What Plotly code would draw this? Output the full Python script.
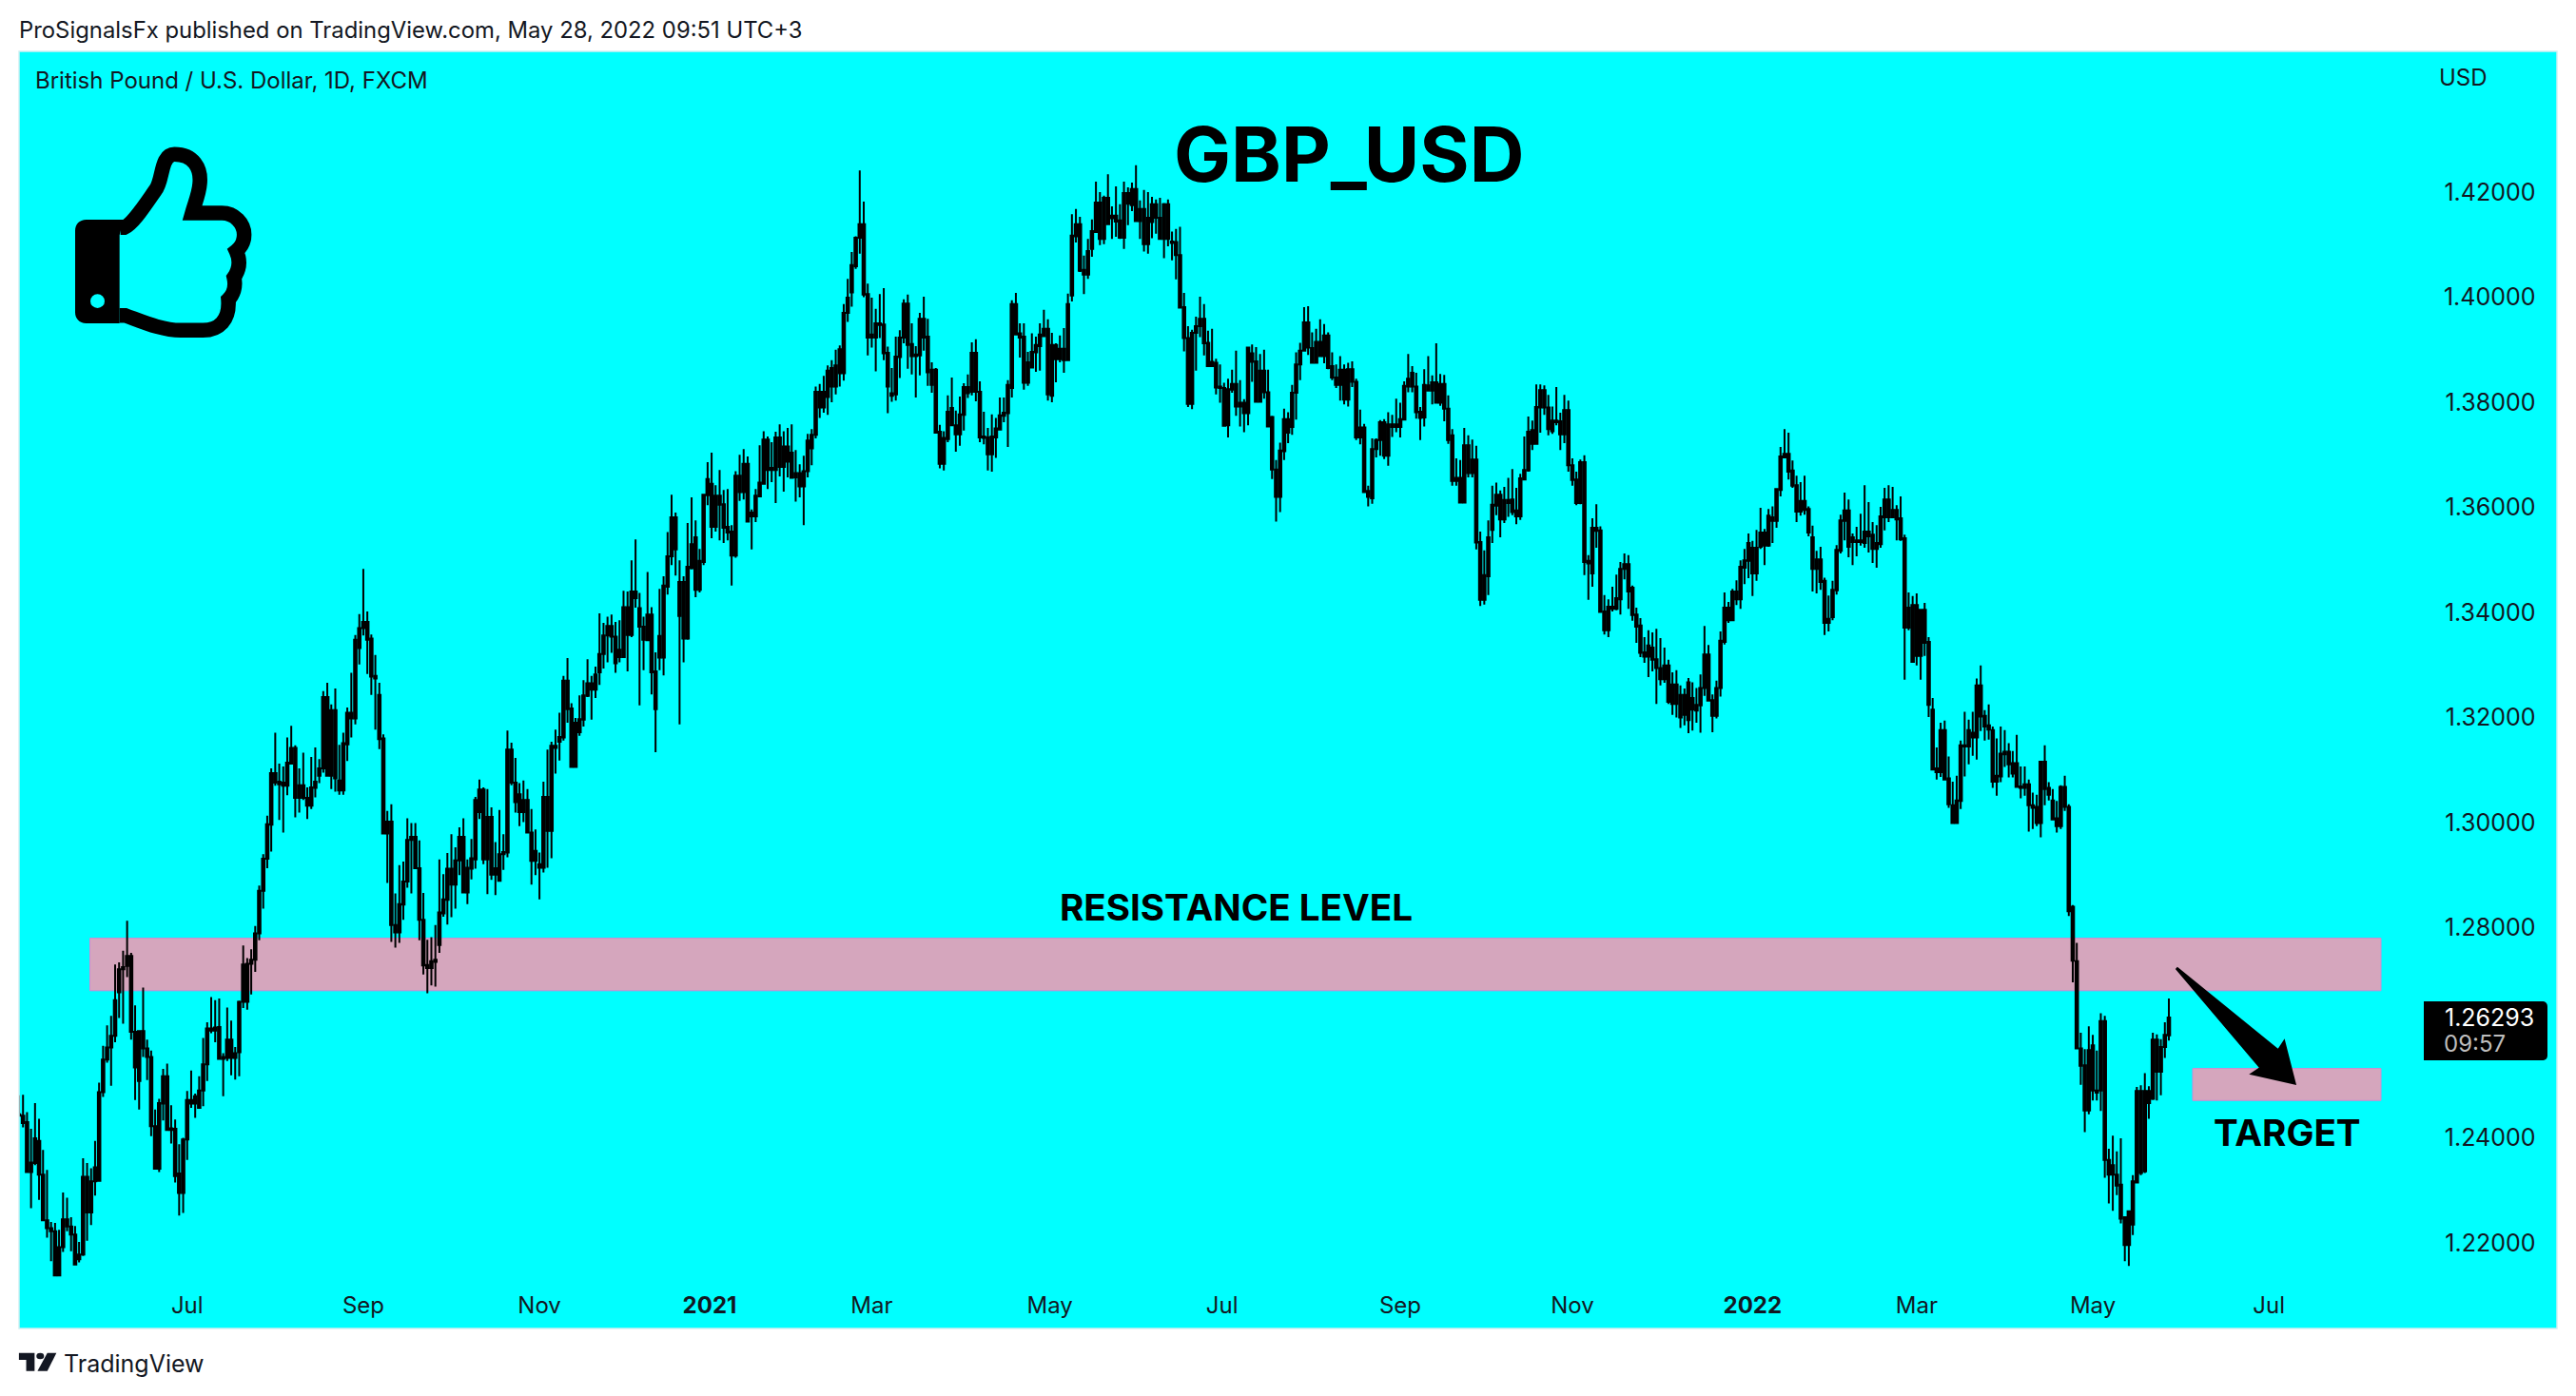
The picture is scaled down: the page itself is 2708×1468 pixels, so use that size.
import plotly.graph_objects as go

# ---- values, in 1/10000 USD (one row per ten daily candles) ----
high_a = [12481,12482,12449,12417,12466,12436,12377,12339,12240,12238,
12225,12296,12286,12249,12232,12202,12361,12352,12342,12394,
12505,12575,12614,12632,12730,12734,12756,12813,12752,12652,
12605,12686,12587,12566,12454,12474,12531,12541,12462,12435,
12388,12400,12489,12528,12484,12517,12590,12620,12668,12662,
12665,12561,12648,12623,12573,12661,12766,12742,12759,12803,
12880,12940]
top_a = [12445,12442,12430,12353,12399,12394,12330,12243,12228,12222,
12192,12245,12245,12231,12216,12178,12326,12326,12317,12344,
12487,12549,12572,12594,12662,12721,12725,12746,12746,12602,
12603,12603,12570,12554,12422,12466,12517,12517,12418,12417,
12332,12397,12472,12472,12479,12490,12540,12608,12608,12610,
12611,12554,12587,12587,12561,12659,12730,12731,12739,12789,
12870,12931]
bottom_a = [12442,12428,12335,12335,12352,12330,12243,12228,12222,12138,
12138,12192,12231,12216,12159,12169,12178,12258,12258,12317,
12318,12487,12549,12572,12594,12677,12721,12727,12602,12534,
12508,12570,12554,12422,12341,12341,12465,12415,12415,12327,
12295,12295,12397,12465,12465,12457,12490,12540,12604,12604,
12550,12550,12552,12552,12552,12563,12659,12659,12731,12739,
12789,12870]
low_a = [12442,12420,12335,12266,12348,12282,12243,12210,12165,12138,
12138,12183,12222,12184,12159,12163,12175,12204,12234,12290,
12318,12478,12543,12499,12582,12628,12617,12706,12587,12472,
12454,12554,12510,12403,12341,12335,12433,12415,12389,12315,
12252,12257,12358,12457,12438,12455,12460,12508,12599,12582,
12550,12479,12546,12519,12511,12517,12647,12644,12673,12716,
12776,12836]

high_b = [13013,13103,13171,13112,13107,13162,13184,13147,13103,13133,
13067,13125,13143,13121,13250,13266,13225,13255,13148,13171,
13219,13285,13357,13397,13483,13402,13358,13319,13266,13168,
13022,13035,12865,12919,12926,13008,12999,12999,12966,12866,
12777,12782,12805,12930,12902,12942,12978,12953,12991,13008,
12930,12969,13049,13082,13067,13064,13029,12963,13024,12978,
13175,13152,13123,13075,13080,13064,13026,12987,12943,13078,
13139,13154,13177,13209,13279,13313]
top_b = [12997,13094,13094,13078,13076,13114,13142,13142,13071,13071,
13047,13067,13078,13103,13239,13239,13214,13214,13080,13151,
13209,13209,13348,13370,13382,13382,13350,13279,13243,13160,
13002,13002,12805,12845,12888,12967,12973,12973,12913,12815,
12729,12736,12739,12829,12854,12912,12912,12928,12973,12973,
12914,12932,13043,13063,13063,13011,13011,12913,12940,12944,
13139,13139,13076,13054,13043,13043,12981,12946,12921,13049,
13049,13146,13146,13163,13270,13270]
bottom_b = [12931,12996,13076,13073,13070,13070,13112,13047,13047,13047,
13032,13032,13066,13089,13103,13089,13089,13084,13061,13061,
13149,13198,13198,13332,13370,13348,13278,13274,13159,12979,
12979,12805,12791,12791,12844,12888,12967,12913,12815,12728,
12723,12723,12735,12767,12827,12853,12882,12882,12928,12867,
12867,12912,12930,13020,12930,12930,12901,12901,12889,12940,
12943,13076,13039,13020,13020,12981,12927,12927,12914,12914,
12984,12984,13142,13154,13162,13216]
low_b = [12913,12945,13070,13005,12981,13052,13112,13010,13019,13043,
13007,13026,13048,13075,13095,13089,13064,13059,13053,13053,
13117,13162,13187,13301,13356,13283,13243,13177,13140,12979,
12885,12773,12762,12771,12815,12876,12865,12913,12776,12711,
12675,12690,12688,12752,12821,12806,12820,12836,12900,12867,
12845,12892,12912,13007,12921,12864,12891,12862,12889,12910,
12934,13071,13019,12993,13001,12981,12882,12900,12854,12905,
12914,12932,13093,13118,13156,13190]

high_c = [13227,13199,13242,13271,13311,13279,13297,13398,13380,13392,
13396,13382,13385,13441,13440,13499,13539,13437,13392,13477,
13410,13324,13445,13469,13553,13624,13590,13499,13469,13570,
13619,13575,13521,13624,13686,13704,13642,13671,13633,13635,
13566,13669,13700,13711,13697,13596,13635,13718,13745,13735,
13724,13744,13758,13745,13751,13758,13709,13682,13698,13740,
13749,13830,13835,13850,13870,13880,13900]
top_c = [13217,13190,13197,13242,13265,13265,13282,13321,13356,13374,
13374,13354,13329,13410,13410,13440,13440,13408,13373,13396,
13396,13288,13355,13451,13507,13581,13581,13458,13458,13487,
13530,13543,13498,13624,13654,13645,13622,13622,13606,13563,
13554,13660,13660,13683,13683,13590,13622,13647,13729,13729,
13675,13733,13733,13716,13716,13704,13665,13665,13669,13727,
13738,13820,13820,13820,13860,13865,13870]
bottom_c = [13106,13106,13172,13196,13241,13253,13253,13286,13321,13356,
13354,13303,13315,13315,13357,13357,13427,13373,13348,13347,
13286,13216,13314,13314,13449,13507,13520,13393,13350,13350,
13484,13443,13443,13496,13623,13563,13563,13605,13561,13552,
13508,13508,13629,13629,13573,13583,13583,13621,13645,13671,
13671,13671,13677,13677,13687,13656,13657,13640,13640,13669,
13712,13738,13790,13790,13810,13830,13830]
low_c = [13106,13106,13165,13183,13239,13196,13237,13262,13293,13305,
13323,13285,13305,13315,13288,13353,13409,13223,13290,13346,
13244,13134,13290,13280,13434,13490,13470,13187,13305,13348,
13482,13429,13438,13490,13604,13541,13554,13537,13532,13537,
13451,13504,13612,13615,13572,13520,13572,13621,13644,13635,
13648,13608,13659,13630,13657,13656,13611,13619,13566,13657,
13680,13731,13770,13780,13776,13800,13815]

high_d = [13908,13987,14035,14086,14116,14241,14182,14026,13999,13978,
14006,14017,13906,13865,13925,13937,13996,14005,13950,13907,
13970,14001,13959,13876,13865,13757,13745,13813,13847,13784,
13811,13836,13853,13914,13920,13840,13782,13751,13777,13770,
13809,13809,13842,13994,14008,13950,13950,13896,13931,13925,
13950,13976,13958,13932,13912,13927,13941,14007,14158,14168,
14153,14079,14111,14148,14220,14200,14193,14234,14173,14211,
14177,14220,14209,14218,14251,14184]
top_d = [13901,13970,13999,14061,14113,14139,14139,14006,13929,13950,
13950,13948,13894,13817,13887,13923,13988,13988,13911,13891,
13959,13959,13925,13862,13862,13744,13732,13782,13789,13756,
13777,13829,13829,13894,13894,13820,13735,13733,13735,13750,
13775,13780,13833,13987,13987,13931,13925,13876,13896,13909,
13929,13940,13940,13909,13909,13902,13902,13987,14117,14139,
14139,14052,14088,14126,14180,14180,14189,14189,14155,14155,
14146,14198,14198,14206,14206,14168]
bottom_d = [13855,13855,13970,14009,14059,14113,14005,13923,13923,13923,
13947,13893,13830,13812,13815,13886,13923,13909,13888,13888,
13889,13923,13857,13833,13742,13683,13683,13730,13756,13739,
13739,13776,13817,13820,13820,13733,13732,13701,13701,13733,
13748,13774,13779,13827,13929,13923,13837,13837,13866,13895,
13907,13926,13815,13812,13882,13882,13880,13880,14003,14116,
14050,14043,14043,14092,14124,14111,14111,14139,14150,14144,
14113,14113,14178,14175,14145,14145]
low_d = [13830,13841,13953,13982,14054,14083,14000,13889,13904,13859,
13922,13880,13779,13801,13803,13846,13912,13864,13853,13809,
13851,13898,13831,13818,13741,13674,13670,13724,13756,13706,
13717,13746,13808,13813,13802,13724,13720,13670,13668,13694,
13746,13762,13715,13809,13928,13885,13824,13831,13865,13858,
13860,13925,13803,13800,13838,13876,13856,13880,13992,14104,
14048,14006,14035,14077,14124,14099,14101,14139,14111,14115,
14111,14092,14137,14164,14145,14111]

high_e = [14204,14200,14191,14186,14189,14179,14186,14125,14130,14134,
14008,13945,13938,13963,14001,13987,13936,13940,13883,13872,
13837,13845,13862,13898,13842,13806,13904,13910,13905,13892,
13900,13862,13774,13690,13723,13788,13781,13833,13895,13913,
13981,13983,13933,13940,13958,13949,13933,13895,13872,13888,
13872,13875,13878,13845,13786,13759,13641,13731,13731,13766,
13768,13781,13776,13807,13799,13840,13892,13869,13856,13791,
13863]
top_e = [14168,14151,14177,14177,14151,14177,14177,14106,14105,14080,
13981,13922,13932,13945,13959,13959,13913,13877,13875,13830,
13827,13825,13835,13835,13799,13799,13904,13893,13878,13860,
13860,13819,13772,13672,13708,13768,13768,13818,13872,13898,
13952,13952,13903,13915,13915,13927,13927,13869,13847,13862,
13862,13863,13863,13839,13752,13752,13631,13711,13728,13762,
13762,13758,13758,13758,13768,13831,13845,13856,13830,13782,
13833]
bottom_e = [14101,14101,14143,14151,14111,14111,14111,14103,14080,13980,
13922,13797,13797,13932,13945,13912,13869,13869,13828,13827,
13755,13756,13824,13792,13792,13779,13779,13877,13801,13801,
13819,13754,13672,13620,13620,13707,13742,13753,13818,13872,
13898,13904,13875,13875,13888,13888,13865,13847,13833,13833,
13805,13805,13839,13733,13733,13629,13620,13617,13711,13728,
13698,13698,13753,13753,13753,13767,13830,13830,13781,13770,
13771]
low_e = [14087,14083,14112,14121,14111,14074,14097,14070,14034,13980,
13897,13791,13787,13860,13924,13889,13869,13869,13815,13799,
13755,13733,13818,13774,13754,13743,13756,13839,13801,13801,
13807,13754,13654,13573,13591,13690,13722,13738,13767,13842,
13898,13890,13875,13875,13888,13874,13863,13842,13827,13803,
13796,13792,13829,13728,13720,13629,13602,13607,13695,13698,
13692,13679,13734,13743,13733,13767,13819,13819,13769,13728,
13754]

high_f = [13888,13851,13912,13854,13852,13813,13749,13693,13690,13751,
13737,13729,13717,13554,13518,13575,13641,13647,13632,13639,
13656,13673,13637,13664,13735,13773,13765,13834,13834,13832,
13814,13792,13829,13780,13814,13803,13693,13668,13691,13699,
13509,13579,13606,13564,13433,13425,13449,13472,13496,13512,
13509,13451,13409,13389,13353,13366,13362,13369,13351,13333,
13310,13286,13290,13261,13255,13275,13267]
top_f = [13832,13838,13838,13835,13835,13788,13737,13656,13656,13718,
13718,13691,13691,13534,13471,13543,13605,13624,13624,13614,
13614,13615,13594,13655,13671,13744,13747,13791,13823,13823,
13790,13765,13765,13764,13785,13785,13680,13653,13686,13686,
13498,13561,13561,13556,13402,13411,13411,13427,13483,13492,
13492,13447,13396,13375,13324,13337,13333,13311,13294,13299,
13299,13263,13263,13243,13243,13267,13237]
bottom_f = [13822,13822,13799,13799,13788,13728,13650,13650,13609,13609,
13665,13665,13533,13424,13424,13469,13557,13603,13577,13577,
13608,13591,13583,13583,13653,13670,13721,13721,13790,13790,
13749,13745,13762,13739,13739,13680,13652,13608,13608,13496,
13493,13474,13555,13401,13366,13366,13407,13407,13425,13483,
13440,13395,13373,13323,13316,13316,13310,13294,13273,13273,
13230,13226,13226,13200,13205,13195,13215]
low_f = [13822,13796,13799,13793,13764,13721,13641,13641,13609,13609,
13657,13657,13520,13412,13415,13433,13532,13585,13543,13570,
13582,13585,13568,13576,13653,13668,13709,13721,13742,13776,
13737,13740,13756,13709,13722,13668,13641,13604,13606,13471,
13424,13449,13523,13401,13358,13353,13402,13404,13396,13463,
13407,13384,13342,13315,13304,13277,13288,13226,13261,13266,
13226,13205,13200,13180,13185,13170,13175]

high_g = [13256,13282,13374,13338,13244,13270,13364,13438,13420,13445,
13461,13499,13521,13550,13536,13557,13599,13559,13597,13602,
13635,13715,13749,13742,13689,13660,13648,13660,13602,13565,
13517,13525,13466,13432,13460,13528,13586,13628,13615,13550,
13563,13588,13642,13610,13572,13566,13601,13637,13642,13639,
13604,13621,13548,13438,13431,13436,13407,13418,13353,13237,
13143,13190,13194]
top_g = [13224,13256,13320,13320,13233,13256,13346,13409,13409,13440,
13440,13487,13499,13532,13523,13523,13552,13552,13584,13581,
13635,13697,13702,13702,13670,13642,13612,13612,13597,13543,
13501,13501,13460,13388,13443,13519,13575,13594,13594,13543,
13537,13537,13554,13554,13548,13532,13583,13615,13615,13595,
13595,13579,13541,13409,13414,13414,13405,13405,13344,13215,
13103,13176,13176]
bottom_g = [13213,13223,13256,13232,13203,13203,13256,13344,13385,13385,
13425,13425,13485,13498,13474,13474,13525,13527,13527,13574,
13574,13633,13695,13668,13641,13592,13592,13595,13552,13483,
13483,13458,13380,13380,13391,13442,13517,13574,13525,13534,
13534,13534,13532,13545,13521,13521,13530,13581,13581,13581,
13577,13539,13371,13371,13306,13317,13317,13342,13224,13101,
13096,13096,13082]
low_g = [13190,13171,13241,13231,13172,13198,13240,13339,13380,13384,
13414,13407,13454,13465,13431,13460,13521,13490,13525,13532,
13561,13621,13695,13653,13637,13572,13584,13586,13545,13440,
13436,13443,13357,13364,13385,13434,13512,13537,13505,13490,
13507,13527,13523,13514,13494,13485,13523,13556,13572,13581,
13537,13536,13272,13366,13306,13299,13272,13317,13201,13101,
13082,13087,13082]

high_h = [13126,13078,13089,13156,13211,13196,13211,13274,13299,13214,
13225,13183,13160,13183,13176,13151,13136,13167,13107,13107,
13082,13057,13053,13116,13147,13077,13064,13041,13071,13089,
13035,12843,12771,12600,12569,12612,12596,12566,12637,12632,
12379,12404,12374,12399,12250,12260,12329,12497,12500,12523,
12498,12600,12597,12588,12620,12665]
top_h = [13084,13033,13042,13147,13147,13176,13171,13261,13261,13203,
13185,13176,13089,13131,13135,13135,13113,13113,13069,13073,
13073,13033,13030,13116,13116,13066,13042,13008,13068,13068,
13030,12840,12736,12570,12538,12567,12576,12490,12622,12622,
12358,12348,12330,12311,12249,12260,12317,12489,12489,12489,
12489,12587,12587,12573,12596,12629]
bottom_h = [13035,12999,12999,13041,13145,13145,13162,13162,13202,13183,
13177,13078,13078,13088,13130,13111,13093,13068,13066,13066,
13033,13028,12999,12999,13064,13053,13006,12993,12993,13030,
12831,12737,12570,12537,12452,12452,12490,12486,12490,12358,
12330,12330,12309,12246,12196,12196,12235,12315,12333,12336,
12466,12474,12526,12526,12573,12595]
low_h = [13028,12999,12999,13026,13088,13111,13127,13120,13174,13156,
13158,13066,13051,13077,13106,13086,13086,13066,13046,13051,
12983,12988,12993,12972,13033,13042,13004,12981,12988,13022,
12822,12696,12570,12501,12411,12445,12471,12471,12451,12324,
12275,12261,12291,12237,12165,12156,12215,12315,12329,12333,
12436,12472,12471,12481,12552,12585]

y_tick_values = [1.22, 1.24, 1.26, 1.28, 1.30, 1.32, 1.34, 1.36, 1.38, 1.40, 1.42]
y_tick_labels = ["1.22000", "1.24000", "", "1.28000", "1.30000", "1.32000", "1.34000", "1.36000", "1.38000", "1.40000", "1.42000"]
x_tick_labels = ["Jul", "Sep", "Nov", "<b>2021</b>", "Mar", "May", "Jul", "Sep", "Nov", "<b>2022</b>", "Mar", "May", "Jul"]
x_tick_index = [42, 86, 130, 172.5, 213, 257.5, 300.5, 345, 388, 433, 474, 518, 562]
resistance_zone = (1.2680, 1.2780)
target_zone = (1.2471, 1.2532)
last_price = "1.26293"
countdown = "09:57"

highs = high_a + high_b + high_c + high_d + high_e + high_f + high_g + high_h
tops = top_a + top_b + top_c + top_d + top_e + top_f + top_g + top_h
bottoms = bottom_a + bottom_b + bottom_c + bottom_d + bottom_e + bottom_f + bottom_g + bottom_h
lows = low_a + low_b + low_c + low_d + low_e + low_f + low_g + low_h
index = list(range(len(highs)))

# ---- layout geometry (page pixels) ----
W, H = 2708, 1468
L, R, T, B = 20, 2688, 54, 1397
FONT = "Inter, 'Noto Sans', sans-serif"
INK = "#131722"
CYAN = "#00FFFF"
first_px, last_px = 20, 2280
step = (last_px - first_px) / (len(index) - 1)
x_range = [(L - first_px) / step, (R - first_px) / step]
y_range = [1.42 - (B - 202) / 5525, 1.42 + (202 - T) / 5525]
def idx(px):
    return (px - first_px) / step

def fx(x):
    return (x - L) / (R - L)

def fy(y):
    return 1 - (y - T) / (B - T)

def svg(cmds, sx=1.0, sy=1.0, ox=0.0, oy=0.0):
    out = []
    for c in cmds:
        if isinstance(c, str):
            out.append(c)
        else:
            out.append(f"{fx(ox + c[0] / sx):.6f},{fy(oy + c[1] / sy):.6f}")
    return " ".join(out)

fig = go.Figure(go.Candlestick(
    x=index,
    open=[v / 10000 for v in bottoms],
    high=[v / 10000 for v in highs],
    low=[v / 10000 for v in lows],
    close=[v / 10000 for v in tops],
    increasing=dict(line=dict(color="black", width=2), fillcolor="black"),
    decreasing=dict(line=dict(color="black", width=2), fillcolor="black"),
    whiskerwidth=0,
    showlegend=False,
    hoverinfo="skip",
))

shapes = []
# zones
for zone, start in ((resistance_zone, 94.5), (target_zone, 2305)):
    shapes.append(dict(type="rect", xref="x", yref="y", x0=idx(start), x1=idx(2503),
                       y0=zone[0], y1=zone[1], fillcolor="#D5A6BD",
                       line=dict(color="#C98BD6", width=1), layer="below"))

# arrow
arrow = ["M", (2288, 1018), "L", (2395, 1105), "L", (2401, 1096), "L", (2412, 1139),
         "L", (2368, 1129), "L", (2377, 1123), "Z"]
shapes.append(dict(type="path", xref="paper", yref="paper", path=svg(arrow),
                   fillcolor="black", line=dict(color="black", width=3)))

# thumb icon (drawn in 3x crop units)
thumb = ["M", (380, 718), "L", (392, 718), "C", (420, 705), (455, 650), (490, 600),
         "C", (515, 570), (505, 487), (550, 487), "C", (610, 487), (635, 530), (630, 580),
         "C", (628, 610), (615, 640), (606, 672), "L", (700, 672),
         "C", (740, 672), (770, 705), (770, 740), "C", (770, 765), (760, 780), (745, 792),
         "C", (758, 820), (755, 850), (738, 875), "C", (745, 905), (735, 930), (720, 945),
         "C", (725, 1010), (690, 1042), (640, 1042), "L", (570, 1042),
         "C", (510, 1042), (450, 1015), (395, 995), "L", (377, 995)]
shapes.append(dict(type="path", xref="paper", yref="paper", path=svg(thumb, 3, 3),
                   fillcolor="rgba(0,0,0,0)", line=dict(color="black", width=15.5)))
cuff = ["M", (272, 693), "L", (390, 693), "L", (377, 742), "L", (377, 1020), "L", (272, 1020),
        "C", (250, 1020), (237, 1005), (237, 985), "L", (237, 728),
        "C", (237, 708), (250, 693), (272, 693), "Z"]
shapes.append(dict(type="path", xref="paper", yref="paper", path=svg(cuff, 3, 3),
                   fillcolor="black", line=dict(width=0)))
shapes.append(dict(type="circle", xref="paper", yref="paper",
                   x0=fx(285 / 3), x1=fx(330 / 3), y0=fy(972 / 3), y1=fy(928 / 3),
                   fillcolor=CYAN, line=dict(width=0)))

# price tag
tag = ["M", (2554, 1053), "L", (2672, 1053), "C", (2676, 1053), (2678, 1055), (2678, 1059),
       "L", (2678, 1110), "C", (2678, 1113), (2676, 1115), (2672, 1115),
       "L", (2548, 1115), "L", (2548, 1053), "Z"]
shapes.append(dict(type="path", xref="paper", yref="paper", path=svg(tag),
                   fillcolor="black", line=dict(width=0)))

# TradingView logo
logo_t = ["M", (52, 1418), "L", (95, 1418), "L", (95, 1475), "L", (72, 1475), "L", (72, 1440),
          "L", (52, 1440), "Z"]
logo_v = ["M", (130, 1418), "L", (155, 1418), "L", (130, 1475), "L", (103, 1475), "Z"]
for part in (logo_t, logo_v):
    shapes.append(dict(type="path", xref="paper", yref="paper",
                       path=svg(part, 2.613, 3, 0, 950),
                       fillcolor=INK, line=dict(width=0)))
shapes.append(dict(type="circle", xref="paper", yref="paper",
                   x0=fx(100 / 2.613), x1=fx(121 / 2.613),
                   y0=fy(950 + 1438 / 3), y1=fy(950 + 1418 / 3),
                   fillcolor=INK, line=dict(width=0)))
# panel outline
shapes.append(dict(type="rect", xref="paper", yref="paper", x0=0, x1=1, y0=0, y1=1,
                   line=dict(color="#CFEFF2", width=1.5), fillcolor="rgba(0,0,0,0)"))

def note(text, x, y, size, color=INK, anchor="center", valign="middle"):
    return dict(text=text, xref="paper", yref="paper", x=fx(x), y=fy(y), xanchor=anchor,
                yanchor=valign, showarrow=False, align=anchor if anchor != "center" else "center",
                font=dict(family=FONT, size=size, color=color), borderpad=0, borderwidth=0)

annotations = [
    note("ProSignalsFx published on TradingView.com, May 28, 2022 09:51 UTC+3", 20, 31, 23.85, anchor="left"),
    note("British Pound / U.S. Dollar, 1D, FXCM", 37, 85, 24, anchor="left"),
    note("USD", 2589, 81, 24),
    note("<b>GBP_USD</b>", 1418, 162, 80, color="black"),
    note("<b>RESISTANCE LEVEL</b>", 1299, 954, 38.6, color="black"),
    note("<b>TARGET</b>", 2404, 1191, 38.6, color="black"),
    note(last_price, 2664, 1070, 25, color="white", anchor="right"),
    note(countdown, 2569, 1097, 24, color="#BDBDBD", anchor="left"),
    note("TradingView", 67, 1434, 25, anchor="left"),
]

fig.update_layout(
    width=W, height=H, autosize=False,
    margin=dict(l=L, r=W - R, t=T, b=H - B, pad=0),
    paper_bgcolor="white", plot_bgcolor=CYAN,
    showlegend=False, hovermode=False,
    boxgap=0.12,
    shapes=shapes, annotations=annotations,
    font=dict(family=FONT, size=24, color=INK),
    xaxis=dict(range=x_range, rangeslider=dict(visible=False), showgrid=False, zeroline=False,
               tickmode="array", tickvals=x_tick_index, ticktext=x_tick_labels,
               ticklabelposition="inside", ticks="inside", ticklen=13,
               tickcolor="rgba(0,0,0,0)", tickfont=dict(family=FONT, size=24, color=INK)),
    yaxis=dict(range=y_range, side="right", showgrid=False, zeroline=False,
               tickmode="array", tickvals=y_tick_values, ticktext=y_tick_labels,
               ticklabelposition="inside", ticks="inside", ticklen=24.5,
               tickcolor="rgba(0,0,0,0)", tickfont=dict(family=FONT, size=25, color=INK)),
)

fig.write_html("out.html", config=dict(displayModeBar=False),
               post_script="document.body.style.margin='0';document.body.style.overflow='hidden';")
